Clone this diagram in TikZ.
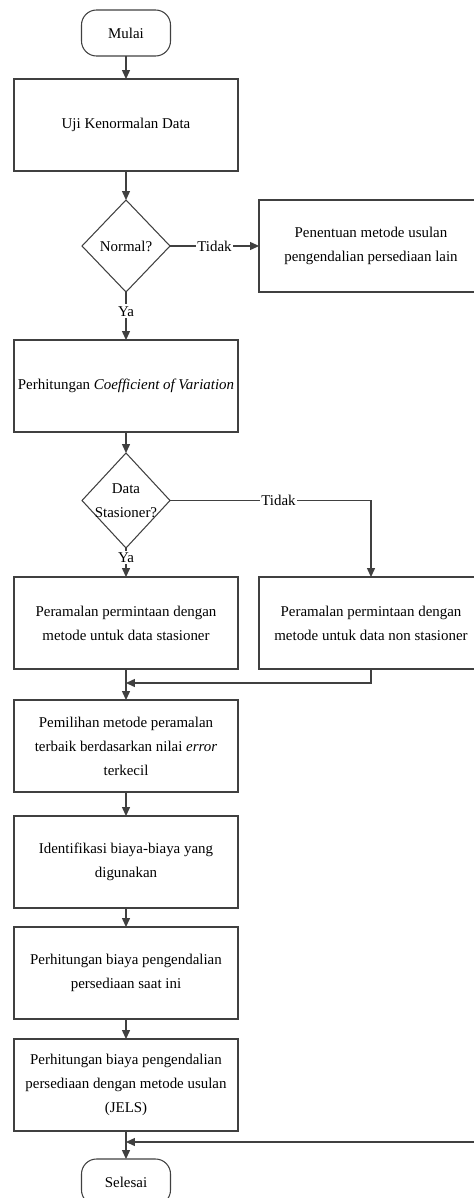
\documentclass[tikz,border=0pt]{standalone}
\usepackage{fontspec}
\setmainfont{Liberation Serif}
\usepackage{tikz}
\usetikzlibrary{arrows.meta,shapes.geometric}
\usetikzlibrary{positioning}
\colorlet{garis}{black!75}
\tikzset{
    process/.style={
           rectangle,
           draw=garis, line width=0.6pt,
           minimum width=4.48cm,
           minimum height=1.84cm,
           outer sep=0pt,
           align=center,
           },
    decision/.style={
           diamond,
           draw=garis, line width=0.6pt,
           minimum width=1.76cm,
           minimum height=1.84cm,
           inner sep=0pt, outer sep=0pt,
           },
    startstop/.style={
           rectangle,
           rounded corners=0.3cm,
           draw=garis, line width=0.6pt,
           minimum width=1.78cm,
           minimum height=0.92cm,
           outer sep=0pt,
           },
    ket/.style={fill=white, inner sep=1pt},
    arus/.style={->, draw=garis, line width=0.6pt},
}

\begin{document}
\begin{tikzpicture}[>={Triangle[length=5pt,width=4.5pt]},
    every node/.append style={font=\fontsize{8.5}{13.6}\selectfont}]
	\useasboundingbox (0,0) rectangle (9.48,-23.96);
	\clip (0,0) rectangle (9.48,-23.96);

	\node[startstop] (mulai) at (2.52,-0.66) {Mulai};
	\node[process]   (uji)    [below=0.46cm of mulai] {Uji Kenormalan Data};
	\node[decision,
	      label={[align=center]center:Normal?}] (normal) [below=0.58cm of uji] {};
	\node[process]   (pen)    [right=1.78cm of normal]
			{Penentuan metode usulan\\pengendalian persediaan lain};
	\node[process, inner xsep=0.5pt] (cov) [below=0.96cm of normal]
			{Perhitungan \textit{Coefficient of Variation}};
	\node[decision, minimum height=1.9cm,
	      label={[align=center]center:{Data\\Stasioner?}}] (stas) [below=0.42cm of cov] {};
	\node[process]   (peram1) [below=0.58cm of stas]
			{Peramalan permintaan dengan\\metode untuk data stasioner};
	\node[process]   (peram2) [right=0.42cm of peram1]
			{Peramalan permintaan dengan\\metode untuk data non stasioner};
	\coordinate[below=0.28cm of peram1] (j1);
	\node[process]   (pilih)  [below=0.62cm of peram1]
			{Pemilihan metode peramalan\\terbaik berdasarkan nilai \textit{error}\\terkecil};
	\node[process]   (ident)  [below=0.48cm of pilih]
			{Identifikasi biaya-biaya yang\\digunakan};
	\node[process]   (biaya1) [below=0.38cm of ident]
			{Perhitungan biaya pengendalian\\persediaan saat ini};
	\node[process]   (biaya2) [below=0.40cm of biaya1]
			{Perhitungan biaya pengendalian\\persediaan dengan metode usulan\\(JELS)};
	\coordinate[below=0.22cm of biaya2] (j2);
	\node[startstop] (selesai) [below=0.56cm of biaya2] {Selesai};

	\draw[arus] (mulai) -- (uji);
	\draw[arus] (uji) -- (normal);
	\draw[arus] (normal) -- node[ket] {Tidak} (pen);
	\draw[arus] (normal) -- node[ket, pos=0.4] {Ya} (cov);
	\draw[arus] (cov) -- (stas);
	\draw[arus] (stas) -| node[ket, pos=0.27] {Tidak} (peram2);
	\draw[arus] (stas) -- node[ket, pos=0.33] {Ya} (peram1);
	\draw[arus] (peram1) -- (pilih);
	\draw[arus] (peram2) |- (j1);
	\draw[arus] (pilih) -- (ident);
	\draw[arus] (ident) -- (biaya1);
	\draw[arus] (biaya1) -- (biaya2);
	\draw[arus] (biaya2) -- (selesai);
	\draw[arus] (pen.east) -- ++(0.3,0) |- (j2);

\end{tikzpicture}
\end{document}
